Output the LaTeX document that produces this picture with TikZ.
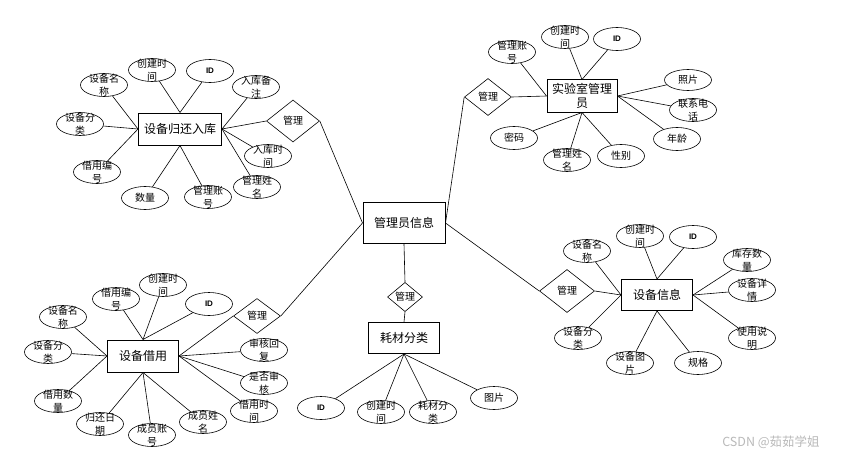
\documentclass[tikz,border=0pt]{standalone}
\usepackage{fontspec}
\setmainfont{Noto Sans CJK SC}
\newfontfamily\idfont{Liberation Sans}
\usetikzlibrary{shapes.geometric}

\begin{document}
\begin{tikzpicture}[x=1pt, y=-1pt, line width=0.6pt,
    entity/.style = {rectangle, draw, line width=1pt, minimum width=71pt, minimum height=32pt, inner sep=1pt, align=center, font=\fontsize{12}{14}\selectfont},
    attribute/.style = {ellipse, draw, minimum width=47pt, minimum height=23pt, inner xsep=0pt, inner ysep=-4pt, align=center, font=\fontsize{10}{13}\selectfont},
    idattr/.style = {attribute, font=\fontsize{8}{10}\selectfont\idfont\bfseries},
    relation/.style = {diamond, draw, inner sep=0pt, font=\fontsize{10}{12}\selectfont}]
  \useasboundingbox (0, 0) rectangle (844, 460);

  % Entities.
  \node at (404, 223) [entity, minimum width=82pt, minimum height=41pt, name=Admin] {管理员信息};
  \node at (180, 129) [entity, minimum width=83pt, name=ReturnIn] {设备归还入库};
  \node at (582, 96) [entity, minimum width=70pt, name=LabAdmin] {实验室管理\\员};
  \node at (143, 356) [entity, name=Borrow] {设备借用};
  \node at (404, 338) [entity, minimum height=31pt, name=Consumable] {耗材分类};
  \node at (657, 295) [entity, minimum height=31pt, name=Device] {设备信息};

  % Relations.
  \node at (293, 121) [relation, minimum width=53pt, minimum height=42pt, name=ReturnManage] {管理};
  \node at (488, 97) [relation, minimum width=47pt, minimum height=37pt, name=LabManage] {管理};
  \node at (257, 316) [relation, minimum width=47pt, minimum height=35pt, name=BorrowManage] {管理};
  \node at (405, 297) [relation, minimum width=35pt, minimum height=27pt, name=ConsManage] {管理};
  \node at (567, 291) [relation, minimum width=55pt, minimum height=43pt, name=DeviceManage] {管理};

  % Attributes of the return entity.
  \node at (104, 85) [attribute, name=ReturnName] {设备名\\称};
  \node at (152, 70) [attribute, name=ReturnCreated] {创建时\\间};
  \node at (210, 71) [idattr, name=ReturnID] {ID};
  \node at (256, 87) [attribute, name=ReturnNote] {入库备\\注};
  \node at (80, 124) [attribute, name=ReturnCategory] {设备分\\类};
  \node at (268, 156) [attribute, name=ReturnTime] {入库时\\间};
  \node at (97, 172) [attribute, name=ReturnBorrowNo] {借用编\\号};
  \node at (257, 187) [attribute, name=ReturnAdminName] {管理姓\\名};
  \node at (145, 198) [attribute, name=ReturnAmount] {数量};
  \node at (208, 197) [attribute, name=ReturnAccount] {管理账\\号};

  % Attributes of the lab admin.
  \node at (512, 52) [attribute, name=LabAccount] {管理账\\号};
  \node at (565, 37) [attribute, name=LabCreated] {创建时\\间};
  \node at (617, 39) [idattr, name=LabID] {ID};
  \node at (688, 80) [attribute, minimum height=21pt, name=LabPhoto] {照片};
  \node at (693, 110) [attribute, name=LabPhone] {联系电\\话};
  \node at (677, 139) [attribute, name=LabAge] {年龄};
  \node at (621, 156) [attribute, name=LabGender] {性别};
  \node at (567, 160) [attribute, name=LabName] {管理姓\\名};
  \node at (514, 138) [attribute, name=LabPassword] {密码};

  % Attributes of borrowing.
  \node at (63, 317) [attribute, name=BorrowName] {设备名\\称};
  \node at (116, 299) [attribute, name=BorrowNo] {借用编\\号};
  \node at (163, 285) [attribute, name=BorrowCreated] {创建时\\间};
  \node at (209, 304) [idattr, name=BorrowID] {ID};
  \node at (48, 352) [attribute, name=BorrowCategory] {设备分\\类};
  \node at (264, 350) [attribute, name=BorrowReply] {审核回\\复};
  \node at (264, 383) [attribute, name=BorrowChecked] {是否审\\核};
  \node at (58, 401) [attribute, name=BorrowAmount] {借用数\\量};
  \node at (254, 411) [attribute, name=BorrowTime] {借用时\\间};
  \node at (100, 424) [attribute, name=BorrowReturnDate] {归还日\\期};
  \node at (152, 435) [attribute, name=BorrowAccount] {成员账\\号};
  \node at (203, 422) [attribute, name=BorrowMember] {成员姓\\名};

  % Attributes of consumables.
  \node at (321, 408) [idattr, name=ConsID] {ID};
  \node at (381, 412) [attribute, name=ConsCreated] {创建时\\间};
  \node at (433, 412) [attribute, name=ConsCategory] {耗材分\\类};
  \node at (494, 398) [attribute, name=ConsPicture] {图片};

  % Attributes of devices.
  \node at (587, 251) [attribute, name=DeviceName] {设备名\\称};
  \node at (640, 236) [attribute, name=DeviceCreated] {创建时\\间};
  \node at (693, 237) [idattr, name=DeviceID] {ID};
  \node at (747, 260) [attribute, name=DeviceStock] {库存数\\量};
  \node at (752, 290) [attribute, name=DeviceDetail] {设备详\\情};
  \node at (752, 338) [attribute, name=DeviceManual] {使用说\\明};
  \node at (698, 363) [attribute, name=DeviceSpec] {规格};
  \node at (630, 363) [attribute, name=DevicePicture] {设备图\\片};
  \node at (578, 338) [attribute, name=DeviceCategory] {设备分\\类};

  % Watermark.
  \node at (771, 442) [text=gray!55, font=\fontsize{12.5}{14}\selectfont, name=Watermark] {CSDN @茹茹学姐};

  % Relations to the admin.
  \draw (ReturnManage.east) to (Admin.west);
  \draw (BorrowManage.east) to (Admin.west);
  \draw (LabManage.west) to (Admin.east);
  \draw (DeviceManage.west) to (Admin.east);
  \draw (Admin.south) to (ConsManage.north);
  \draw (ConsManage.south) to (Consumable.north);
  \draw (ReturnManage.west) to (ReturnIn.east);
  \draw (LabManage.east) to (LabAdmin.west);
  \draw (BorrowManage.west) to (Borrow.east);
  \draw (DeviceManage.east) to (Device.west);

  % Return links.
  \draw (ReturnName) to (ReturnIn.west);
  \draw (ReturnCategory) to (ReturnIn.west);
  \draw (ReturnBorrowNo) to (ReturnIn.west);
  \draw (ReturnCreated) to (ReturnIn.north);
  \draw (ReturnID) to (ReturnIn.north);
  \draw (ReturnAmount) to (ReturnIn.south);
  \draw (ReturnAccount) to (ReturnIn.south);
  \draw (ReturnNote) to (ReturnIn.east);
  \draw (ReturnTime) to (ReturnIn.east);
  \draw (ReturnAdminName) to (ReturnIn.east);

  % Lab admin links.
  \draw (LabAccount) to (LabAdmin.west);
  \draw (LabCreated) to (LabAdmin.north);
  \draw (LabID) to (LabAdmin.north);
  \draw (LabPhoto) to (LabAdmin.east);
  \draw (LabPhone) to (LabAdmin.east);
  \draw (LabAge) to (LabAdmin.east);
  \draw (LabPassword) to (LabAdmin.south);
  \draw (LabName) to (LabAdmin.south);
  \draw (LabGender) to (LabAdmin.south);

  % Borrow links.
  \draw (BorrowName) to (Borrow.west);
  \draw (BorrowCategory) to (Borrow.west);
  \draw (BorrowAmount) to (Borrow.west);
  \draw (BorrowNo) to (Borrow.north);
  \draw (BorrowCreated) to (Borrow.north);
  \draw (BorrowID) to (Borrow.north);
  \draw (BorrowReply) to (Borrow.east);
  \draw (BorrowChecked) to (Borrow.east);
  \draw (BorrowTime) to (Borrow.east);
  \draw (BorrowReturnDate) to (Borrow.south);
  \draw (BorrowAccount) to (Borrow.south);
  \draw (BorrowMember) to (Borrow.south);

  % Consumable links.
  \draw (ConsID) to (Consumable.south);
  \draw (ConsCreated) to (Consumable.south);
  \draw (ConsCategory) to (Consumable.south);
  \draw (ConsPicture) to (Consumable.south);

  % Device links.
  \draw (DeviceName) to (Device.west);
  \draw (DeviceCategory) to (Device.west);
  \draw (DeviceCreated) to (Device.north);
  \draw (DeviceID) to (Device.north);
  \draw (DeviceStock) to (Device.east);
  \draw (DeviceDetail) to (Device.east);
  \draw (DeviceManual) to (Device.east);
  \draw (DevicePicture) to (Device.south);
  \draw (DeviceSpec) to (Device.south);
\end{tikzpicture}
\end{document}
